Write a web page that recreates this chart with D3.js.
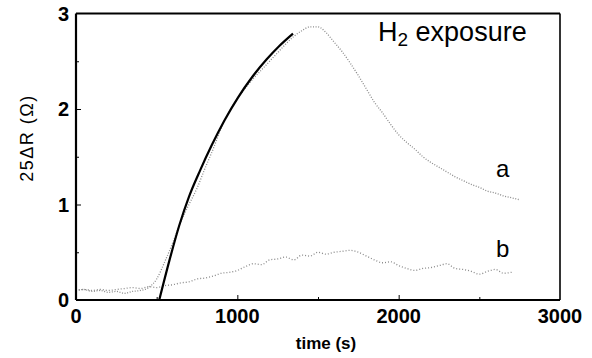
<!DOCTYPE html>
<html>
<head>
<meta charset="utf-8">
<script src="https://cdn.jsdelivr.net/npm/d3@7"></script>
<style>
  body { margin: 0; background: #fff; }
  svg { font-family: "Liberation Sans", Arial, sans-serif; }
  .tick-label { font-weight: bold; font-size: 20px; }
</style>
</head>
<body>
<svg id="chart" width="592" height="358"></svg>
<script>
// time axis (s) shared by the two measured curves
var timeA = d3.range(0, 2751, 50);
var timeB = d3.range(0, 2701, 50);

// curve a: Pd wire response, 25ΔR (Ω)
var curveA = [0.10, 0.11, 0.09, 0.10, 0.08, 0.09, 0.07, 0.09, 0.10, 0.13,
              0.22, 0.40, 0.60, 0.82, 1.00, 1.17, 1.38, 1.58, 1.80, 1.97,
              2.11, 2.22, 2.32, 2.41, 2.50, 2.59, 2.68, 2.76, 2.82, 2.86,
              2.86, 2.80, 2.70, 2.60, 2.48, 2.35, 2.21, 2.07, 1.96, 1.84,
              1.73, 1.65, 1.58, 1.50, 1.44, 1.39, 1.34, 1.29, 1.25, 1.21,
              1.18, 1.14, 1.12, 1.09, 1.07, 1.05];

// curve b
var curveB = [0.10, 0.11, 0.10, 0.11, 0.10, 0.11, 0.12, 0.13, 0.12, 0.14,
              0.13, 0.15, 0.16, 0.18, 0.19, 0.22, 0.23, 0.25, 0.28, 0.29,
              0.31, 0.35, 0.38, 0.37, 0.42, 0.43, 0.45, 0.42, 0.47, 0.46,
              0.50, 0.48, 0.50, 0.51, 0.52, 0.50, 0.46, 0.42, 0.39, 0.40,
              0.36, 0.33, 0.31, 0.33, 0.34, 0.36, 0.38, 0.33, 0.32, 0.30,
              0.27, 0.30, 0.32, 0.28, 0.29];

// fitted rise (solid line)
var fitT = [516, 580, 640, 700, 770, 841, 920, 1004, 1090, 1182, 1260, 1345];
var fitV = [0.00, 0.42, 0.78, 1.08, 1.36, 1.62, 1.88, 2.12, 2.33, 2.52, 2.66, 2.79];

var xTicks = [0, 1000, 2000, 3000];
var xMinor = [500, 1500, 2500];
var yTicks = [0, 1, 2, 3];
var yMinor = [0.5, 1.5, 2.5];

var svg = d3.select("#chart");
var plotL = 76, plotR = 560, plotT = 13.5, plotB = 300;

var x = d3.scaleLinear().domain([0, 3000]).range([plotL, plotR]);
var y = d3.scaleLinear().domain([0, 3]).range([plotB, plotT]);

function drawData(ts, vs, dash)
{
	var line = d3.line()
		.x(function(d, i) { return x(ts[i]); })
		.y(function(d) { return y(d); })
		.curve(d3.curveMonotoneX);
	svg.append("path")
		.datum(vs)
		.attr("d", line)
		.attr("fill", "none")
		.attr("stroke", "#8a8a8a")
		.attr("stroke-width", 1.3)
		.attr("stroke-dasharray", dash);
}

drawData(timeA, curveA, "1 1.6");
drawData(timeB, curveB, "1 2");

var fitLine = d3.line()
	.x(function(d, i) { return x(fitT[i]); })
	.y(function(d) { return y(d); })
	.curve(d3.curveMonotoneX);

svg.append("path")
	.datum(fitV)
	.attr("d", fitLine)
	.attr("fill", "none")
	.attr("stroke", "#000")
	.attr("stroke-width", 2.2);

// frame
svg.append("line").attr("x1", plotL).attr("x2", plotR).attr("y1", plotT).attr("y2", plotT)
	.attr("stroke", "#000").attr("stroke-width", 2);
svg.append("line").attr("x1", plotR).attr("x2", plotR).attr("y1", plotT).attr("y2", plotB)
	.attr("stroke", "#000").attr("stroke-width", 1.6);
svg.append("line").attr("x1", plotL).attr("x2", plotR).attr("y1", plotB).attr("y2", plotB)
	.attr("stroke", "#000").attr("stroke-width", 2.2);
svg.append("line").attr("x1", plotL).attr("x2", plotL).attr("y1", plotT).attr("y2", plotB)
	.attr("stroke", "#000").attr("stroke-width", 2.2);

// inward ticks
var xAxis = d3.axisBottom(x).tickValues(xTicks.slice(1, 3)).tickSize(-5).tickFormat("");
svg.append("g").attr("transform", "translate(0," + plotB + ")").call(xAxis)
	.call(function(g) { g.select(".domain").remove(); });
var xAxisMinor = d3.axisBottom(x).tickValues(xMinor).tickSize(-3).tickFormat("");
svg.append("g").attr("transform", "translate(0," + plotB + ")").call(xAxisMinor)
	.call(function(g) { g.select(".domain").remove(); });

var yAxis = d3.axisLeft(y).tickValues(yTicks.slice(1, 3)).tickSize(-5).tickFormat("");
svg.append("g").attr("transform", "translate(" + plotL + ",0)").call(yAxis)
	.call(function(g) { g.select(".domain").remove(); });
var yAxisMinor = d3.axisLeft(y).tickValues(yMinor).tickSize(-3).tickFormat("");
svg.append("g").attr("transform", "translate(" + plotL + ",0)").call(yAxisMinor)
	.call(function(g) { g.select(".domain").remove(); });

// tick labels
svg.selectAll(".xlab")
	.data(xTicks)
	.enter()
	.append("text")
	.attr("class", "tick-label")
	.attr("x", function(d) { return x(d); })
	.attr("y", 323)
	.attr("text-anchor", "middle")
	.text(function(d) { return d; });

svg.selectAll(".ylab")
	.data(yTicks)
	.enter()
	.append("text")
	.attr("class", "tick-label")
	.attr("x", 69)
	.attr("y", function(d) { return y(d) + 7; })
	.attr("text-anchor", "end")
	.text(function(d) { return d; });

// axis titles
svg.append("text")
	.attr("x", 326).attr("y", 349)
	.attr("text-anchor", "middle")
	.style("font-weight", "bold").style("font-size", "17px")
	.text("time (s)");

svg.append("text")
	.attr("transform", "translate(33,138) rotate(-90)")
	.attr("text-anchor", "middle")
	.style("font-size", "18px")
	.style("letter-spacing", "1.5px")
	.text("25ΔR (Ω)");

// annotations
var title = svg.append("text")
	.attr("x", 378).attr("y", 41)
	.style("font-size", "27px");
title.append("tspan").text("H");
title.append("tspan").attr("dy", 5).style("font-size", "19px").text("2");
title.append("tspan").attr("dy", -5).text(" exposure");

svg.append("text").attr("x", 496).attr("y", 177).style("font-size", "24px").text("a");
svg.append("text").attr("x", 496).attr("y", 257).style("font-size", "24px").text("b");
</script>
</body>
</html>
